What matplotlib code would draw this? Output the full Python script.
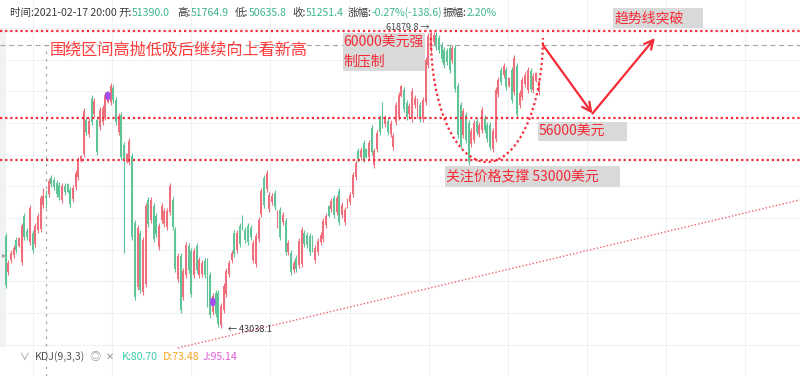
import matplotlib
matplotlib.use("Agg")
import matplotlib.pyplot as plt
from matplotlib.patches import Arc, Ellipse, Rectangle

plt.rcParams['font.family'] = ['Noto Sans CJK SC', 'DejaVu Sans']

# 4h candles
opens = [
    48860, 46590, 47340, 47660, 48610, 48230, 47220, 50120, 49180, 48480,   # 0
    49050, 48350, 49240, 49300, 50820, 51390.0, 51510, 52530, 52400, 52210,  # 10
    52080, 51140, 52020, 52150, 51770, 51200, 51960, 52590, 53600, 54040,   # 20
    56190, 55310, 57580, 56570, 56190, 55750, 56070, 56380, 57330, 57330,   # 30
    58210, 57460, 55430, 56510, 54610, 53540, 53540, 53920, 49680, 45640,   # 40
    49050, 45320, 45830, 51140, 49870, 50760, 50120, 48170, 49870, 49620,   # 50
    49430, 50380, 51140, 49240, 46140, 47600, 45010, 46400, 48230, 47910,   # 60
    46400, 48230, 46400, 46460, 47280, 47280, 46400, 44060, 45260, 45260,   # 70
    43240, 44180, 45190, 46460, 47340, 49050, 47980, 49490, 50000, 49240,   # 80
    49490, 49370, 47340, 47090, 48670, 50250, 52530, 51830, 50570, 51010,   # 90
    51580, 49560, 50500, 49750, 49810, 47850, 47790, 46710, 47470, 47030,   # 100
    47090, 49050, 48920, 48860, 48730, 47340, 47850, 48480, 48670, 49560,   # 110
    50760, 50570, 51260, 50380, 51700, 50190, 49750, 50690, 51010, 51510,   # 120
    52590, 54230, 53850, 54740, 54360, 53850, 55690, 53350, 54360, 56320,   # 130
    57140, 55940, 56130, 55310, 54490, 56070, 56380, 57710, 58090, 57270,   # 140
    56570, 56250, 57140, 56510, 57140, 56250, 57330, 59670, 60680, 61120,   # 150
    61560, 61370, 60930, 60620, 60550, 60740, 59980, 60740, 58340, 57140,   # 160
    55240, 56510, 56000, 54670, 54930, 56130, 55310, 55560, 56320, 55880,   # 170
    55880, 54360, 54990, 57830, 59350, 59040, 59350, 58340, 59350, 57960,   # 180
    59600, 57140, 57650, 58470, 58090, 59290, 58090, 58660, 57960,          # 190
]
highs = [
    49050, 47340, 47980, 48290, 48800, 48800, 49680, 50310, 49370, 50820,
    49240, 49680, 50310, 51450, 51890, 51764.9, 52530, 52720, 52590, 52400,
    52270, 52210, 52210, 52210, 51960, 52080, 53030, 53850, 53980, 56950,
    56380, 56320, 57770, 57580, 56380, 57010, 57140, 57960, 57960, 58530,
    58400, 57650, 56630, 56700, 54800, 54110, 55050, 54110, 49870, 49560,
    49240, 48800, 50950, 51330, 51330, 50950, 50310, 49680, 50950, 50630,
    50630, 52210, 51330, 49430, 47790, 47790, 46840, 48480, 48420, 48100,
    48100, 48420, 47530, 47340, 47470, 47470, 46590, 45260, 45450, 45450,
    44630, 45890, 46840, 47340, 47980, 49240, 49240, 49680, 50190, 49430,
    49680, 49560, 48610, 49050, 50060, 51890, 52720, 53030, 51640, 51580,
    51770, 50500, 50690, 50380, 50000, 48610, 47980, 47340, 47660, 48730,
    49430, 49240, 49110, 49050, 48920, 48290, 48730, 49110, 50000, 50310,
    50820, 51260, 51450, 51450, 51890, 51010, 50690, 51260, 51640, 52910,
    53660, 54420, 54490, 54930, 54420, 54930, 55880, 54420, 55560, 56510,
    57330, 56510, 56320, 56190, 55370, 57330, 57960, 58400, 58280, 57460,
    57270, 58210, 57770, 57580, 57330, 57650, 60170, 61690, 61879.8, 61750,
    61750, 61560, 61120, 60810, 60740, 60930, 60930, 60930, 58530, 57330,
    56950, 56700, 56190, 55690, 56190, 56320, 56070, 57010, 56510, 56070,
    56070, 55690, 58280, 58910, 59540, 59790, 59540, 58910, 59540, 60300,
    59790, 58090, 58910, 59230, 59540, 59480, 59160, 59230, 58850,
]
lows = [
    45570, 46400, 47150, 47470, 47790, 48170, 47030, 48610, 48610, 48290,
    47790, 48170, 49050, 49110, 50630, 50635.8, 51330, 51960, 51770, 51330,
    51140, 50950, 51450, 51580, 50690, 51010, 51770, 52400, 53540, 53850,
    55240, 55120, 55880, 56380, 53980, 55560, 55880, 56190, 57270, 57140,
    57270, 55880, 55240, 53660, 47790, 53470, 53350, 48610, 44820, 45450,
    45260, 45130, 45640, 49430, 49680, 48480, 48800, 47980, 49680, 49430,
    49240, 50190, 49240, 46590, 45950, 43990, 44820, 46210, 46520, 45010,
    46210, 46520, 46210, 46270, 46210, 44370, 43680, 43870, 43740, 43110,
    43038.1, 43990, 45010, 46270, 47150, 47530, 47790, 48170, 49240, 48420,
    48290, 48610, 47150, 46900, 48480, 50060, 50630, 51640, 50380, 50820,
    50500, 49370, 48610, 49560, 47660, 47660, 46400, 46520, 46590, 46840,
    46900, 48170, 48100, 47660, 47850, 47150, 47660, 48290, 48480, 49370,
    50060, 50380, 50000, 50190, 49560, 50000, 49560, 50630, 50820, 51330,
    52400, 53540, 53660, 53540, 53790, 53660, 53980, 53160, 54170, 55240,
    55690, 55750, 55240, 55120, 54300, 55880, 56190, 57650, 56700, 56190,
    56380, 56070, 56950, 56320, 56070, 56070, 57140, 59480, 60490, 60930,
    60620, 60430, 59860, 59480, 59670, 59160, 59790, 57960, 55050, 54420,
    55050, 54740, 53350, 54490, 54740, 55240, 55120, 55370, 55370, 54800,
    54300, 54170, 54800, 57650, 58400, 58850, 58090, 58280, 57270, 57770,
    56380, 56950, 57460, 58280, 57900, 57960, 57900, 58590, 57770,
]
closes = [
    45760, 47150, 47790, 48100, 47980, 48730, 49490, 48800, 48800, 50630,
    47980, 49490, 50120, 51260, 51390.0, 51251.4, 52340, 52150, 51960, 51510,
    51330, 52020, 51640, 51640, 50880, 51890, 52840, 53660, 53920, 56760,
    55430, 56130, 56070, 57390, 54170, 56820, 56950, 57770, 57900, 58340,
    57460, 56070, 56440, 53850, 53660, 54040, 54860, 48800, 45010, 49370,
    45450, 48610, 50760, 49620, 51140, 48670, 48990, 49490, 50760, 50440,
    50440, 52020, 49430, 46770, 47600, 44180, 46650, 48290, 46710, 45190,
    47910, 46710, 47340, 47150, 46400, 44560, 43870, 45070, 43930, 43300,
    44440, 45700, 46650, 47150, 47790, 47720, 49050, 48350, 49430, 48610,
    48480, 48800, 48420, 48860, 49870, 51700, 50820, 52840, 51450, 51390,
    50690, 50310, 48800, 50190, 47850, 48420, 46590, 47150, 46770, 48540,
    49240, 48350, 48290, 47850, 48040, 48100, 48540, 48920, 49810, 50120,
    50120, 51070, 50190, 51260, 49750, 50820, 50500, 51200, 51450, 52720,
    53470, 53730, 54300, 53730, 53850, 54740, 54170, 54230, 55370, 55430,
    55880, 56320, 55430, 56000, 55180, 57140, 57770, 58340, 56890, 56380,
    57080, 58020, 57580, 57390, 56250, 57460, 59980, 61500, 61690, 61560,
    60800, 60620, 60050, 59670, 59860, 59350, 60740, 58150, 55240, 54610,
    56760, 54930, 53540, 55500, 56000, 55430, 55880, 56820, 55560, 54990,
    54490, 55500, 58090, 58720, 58590, 59600, 58280, 58850, 57460, 60110,
    56570, 57900, 58720, 59040, 59350, 58150, 58970, 59160, 58660,
]

cross_idx = 15
cross_time = "2021-02-17 20:00"
cross_price = 60930
high_idx = 158
low_idx = 80
mark_idx = [38, 77]
mark_price = [57710, 44690]

# analyst drawings
levels = [61816, 56317, 53663]
trend_idx = [64, 295]
trend_price = [41780, 51140]
bowl_idx = 178.8
bowl_top = 61373
bowl_bottom = 53537
bowl_width = 41.6
zig_idx = [199.6, 218.0, 241.2]
zig_price = [60930, 56600, 61370]

kdj_names = ["K", "D", "J"]
kdj_values = [80.70, 73.48, 95.14]

W, H = 800, 376
RED = '#ef6f7c'
GREEN = '#5fc597'
ANNO = '#f52a36'
BOX = '#d9d9d9'

fig = plt.figure(figsize=(W / 100, H / 100), dpi=100)
ax = fig.add_axes([0, 0, 1, 1])
ax.set_xlim(-2.08, 295.1)
ax.set_ylim(40011, 63775)
ax.axis('off')


def px(x, y):
    return x / W, 1 - y / H


# grid
for p in range(42000, 64000, 2000):
    ax.axhline(p, color='#eef1f5', lw=0.8, zorder=0)
for k in range(10):
    ax.axvline(10.2 + 29.4 * k, color='#eef1f5', lw=0.8, zorder=0)

ax.add_patch(Rectangle((0, 1 - 347 / H), 6 / W, 319 / H, transform=fig.transFigure,
                       color='#f1f2f4', lw=0, zorder=1))
fig.text(*px(2, 255), '▸', fontsize=6, color='#9a9a9a', va='center')

# crosshair
ax.axhline(cross_price, color='#a8a8a8', lw=0.9, ls=(0, (4, 3)), zorder=2)
ax.vlines(cross_idx, 40011, cross_price, color='#a8a8a8', lw=0.9, ls=(0, (2, 4)), zorder=2)

# candles
idx = list(range(len(opens)))
cols = [RED if c >= o else GREEN for o, c in zip(opens, closes)]
ax.vlines(idx, lows, highs, colors=cols, lw=0.8, zorder=3)
ax.bar(idx, [abs(c - o) for o, c in zip(opens, closes)],
       bottom=[min(o, c) for o, c in zip(opens, closes)],
       width=0.72, color=cols, lw=0, zorder=3)

for i, p in zip(mark_idx, mark_price):
    ax.add_patch(Ellipse((i, p), 1.6, 480, color='#a64df0', zorder=4))

# analyst lines
dots = (0, (1, 1.3))
for lv in levels:
    ax.axhline(lv, color=ANNO, lw=1.6, ls=dots, zorder=4)
ax.plot(trend_idx, trend_price, color='#f0606e', lw=1.0, ls=(0, (1, 1.5)), zorder=4)
ax.add_patch(Arc((bowl_idx, bowl_top), bowl_width, 2 * (bowl_top - bowl_bottom),
                 theta1=180, theta2=360, color=ANNO, lw=1.6, ls=dots, zorder=4))
for k in range(len(zig_idx) - 1):
    ax.annotate('', xy=(zig_idx[k + 1], zig_price[k + 1]), xytext=(zig_idx[k], zig_price[k]),
                arrowprops=dict(arrowstyle='->', color=ANNO, lw=1.6, mutation_scale=16,
                                shrinkA=0, shrinkB=0), zorder=5)


def box_text(x0, y0, x1, y1, text, tx, ty, fs=10, **kw):
    ax.add_patch(Rectangle(px(x0, y1), (x1 - x0) / W, (y1 - y0) / H,
                           transform=fig.transFigure, color=BOX, lw=0, zorder=6))
    fig.text(*px(tx, ty), text, color=ANNO, fontsize=fs, va='center', ha='left',
             zorder=7, **kw)


fig.text(*px(50, 50), '围绕区间高抛低吸后继续向上看新高', color='#ff3b3b', fontsize=11.6,
         va='center', ha='left', zorder=7)
box_text(343, 33, 425, 71, '60000美元强\n制压制', 343, 52, linespacing=1.4)
box_text(613, 8, 703, 28, '趋势线突破', 615, 18)
box_text(538, 122, 627, 141, '56000美元', 539, 132)
box_text(445, 166, 620, 187, '关注价格支撑 53000美元', 446, 177)

# extreme labels
fig.text(*px(429, 27), f'{highs[high_idx]:.1f} →', fontsize=6.5, color='#444444',
         va='center', ha='right')
fig.text(*px(228, 330), f'← {lows[low_idx]:.1f}', fontsize=6.5, color='#333333',
         va='center', ha='left')

# header
renderer = fig.canvas.get_renderer()
DARK = '#3a3a3a'
HGREEN = '#3fb68b'
prev_close = closes[cross_idx - 1]
chg = closes[cross_idx] - prev_close
pct = chg / prev_close * 100
amp = (highs[cross_idx] - lows[cross_idx]) / prev_close * 100
header = [
    (10, [('时间:' + cross_time, DARK)]),
    (118, [('开:', DARK), (f'{opens[cross_idx]:.1f}', HGREEN)]),
    (177, [('高:', DARK), (f'{highs[cross_idx]:.1f}', HGREEN)]),
    (235, [('低:', DARK), (f'{lows[cross_idx]:.1f}', HGREEN)]),
    (292, [('收:', DARK), (f'{closes[cross_idx]:.1f}', HGREEN)]),
    (348, [('涨幅:', DARK), (f'{pct:.2f}%({chg:.1f})', HGREEN)]),
    (443, [('振幅:', DARK), (f'{amp:.2f}%', HGREEN)]),
]


def run_text(x, y, parts, fs):
    for s, c in parts:
        t = fig.text(*px(x, y), s, color=c, fontsize=fs, va='center', ha='left')
        x += t.get_window_extent(renderer=renderer).width


for x, parts in header:
    run_text(x, 13, parts, 7.6)

# KDJ strip
kdj_cols = ['#3cc9a8', '#f5a623', '#e05ad8']
fig.text(*px(20, 357), '∨', fontsize=7, color='#8a8a8a', va='center')
fig.text(*px(35, 357), 'KDJ(9,3,3)', fontsize=7.6, color='#555555', va='center')
fig.text(*px(89, 357), '◎', fontsize=8, color='#9a9a9a', va='center')
fig.text(*px(106, 357), '✕', fontsize=7, color='#9a9a9a', va='center')
for x, n, v, c in zip([122, 163, 203], kdj_names, kdj_values, kdj_cols):
    fig.text(*px(x, 357), f'{n}:{v:.2f}', fontsize=7.6, color=c, va='center')

fig.savefig('out.png', dpi=100)
